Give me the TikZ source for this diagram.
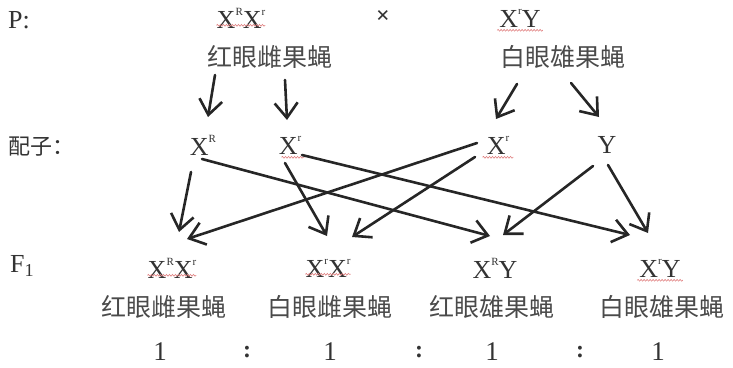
\documentclass[tikz,border=0pt]{standalone}
\usepackage{fontspec}
\setmainfont{Liberation Serif}
\newfontfamily\cjk{Noto Sans CJK SC}
\usetikzlibrary{arrows.meta,decorations.pathmorphing}
\definecolor{txt}{HTML}{4A4A4A}
\definecolor{wavy}{HTML}{E08080}
\newcommand{\gsup}[1]{\raisebox{0.5em}{\fontsize{11}{11}\selectfont #1}}
\begin{document}
\begin{tikzpicture}[x=1pt,y=-1pt,
  geno/.style={inner sep=0pt,text=black!80,font=\fontsize{26}{26}\selectfont},
  pheno/.style={inner sep=0pt,text=txt,font=\cjk\fontsize{25}{25}\selectfont},
  lbl/.style={inner sep=0pt,anchor=west,text=black!80},
  ratio/.style={inner sep=0pt,text=black!80,font=\fontsize{27}{27}\selectfont},
  arr/.style={line width=2.6pt,black!85,line cap=round,-{Straight Barb[length=15pt,width=23pt,line width=2.6pt]}},
  wav/.style={wavy,line width=0.6pt,decorate,decoration={snake,amplitude=0.9pt,segment length=3pt}}]
\useasboundingbox (0,0) rectangle (733,367);
% labels
\node[lbl,font=\fontsize{26}{26}\selectfont] (lp) at (8,20) {P:};
\node[lbl,font=\cjk\fontsize{22}{22}\selectfont] (lg) at (8,147) {配子：};
\node[lbl,font=\fontsize{26}{26}\selectfont] (lf) at (10,266) {F\textsubscript{1}};
% parents
\node[geno] (pfg) at (241,18) {X\gsup{R}X\gsup{r}};
\node[inner sep=0pt,font=\bfseries\fontsize{24}{24}\selectfont,text=black!80] (cross) at (383,17) {×};
\node[geno] (pmg) at (520,18) {X\gsup{r}Y};
\node[pheno] (pf) at (270,57) {红眼雌果蝇};
\node[pheno] (pm) at (563,57) {白眼雄果蝇};
% gametes
\node[geno] (gR) at (203,145) {X\gsup{R}};
\node[geno] (gr1) at (290,145) {X\gsup{r}};
\node[geno] (gr2) at (498,145) {X\gsup{r}};
\node[geno] (gY) at (607,145) {Y};
% F1
\node[geno] (f1) at (172,268) {X\gsup{R}X\gsup{r}};
\node[geno] (f2) at (328,268) {X\gsup{r}X\gsup{r}};
\node[geno] (f3) at (495,268) {X\gsup{R}Y};
\node[geno] (f4) at (660,268) {X\gsup{r}Y};
\node[pheno] (p1) at (164,307) {红眼雌果蝇};
\node[pheno] (p2) at (330,307) {白眼雌果蝇};
\node[pheno] (p3) at (492,307) {红眼雄果蝇};
\node[pheno] (p4) at (662,307) {白眼雄果蝇};
% ratio
\node[ratio] (r1) at (160,352) {1};
\node[ratio,font=\bfseries\fontsize{24}{24}\selectfont] (c1) at (247,352) {:};
\node[ratio] (r2) at (330,352) {1};
\node[ratio,font=\bfseries\fontsize{24}{24}\selectfont] (c2) at (419,352) {:};
\node[ratio] (r3) at (492,352) {1};
\node[ratio,font=\bfseries\fontsize{24}{24}\selectfont] (c3) at (580,352) {:};
\node[ratio] (r4) at (658,352) {1};
% wavy underlines
\draw[wav] ([yshift=3]pfg.south west) -- ([yshift=3]pfg.south east);
\draw[wav] ([shift={(-2,3)}]pmg.south west) -- ([shift={(2,3)}]pmg.south east);
\draw[wav] ([shift={(3,3)}]gr1.south west) -- ([shift={(3,3)}]gr1.south east);
\draw[wav] ([shift={(-4,3)}]gr2.south west) -- ([shift={(4,3)}]gr2.south east);
\draw[wav] ([yshift=3]f1.south west) -- ([yshift=3]f1.south east);
\draw[wav] ([yshift=3]f2.south west) -- ([yshift=3]f2.south east);
\draw[wav] ([shift={(-2,3)}]f4.south west) -- ([shift={(2,3)}]f4.south east);
% arrows P -> gametes
\draw[arr] ([shift={(-55,18)}]pf.center) -- ([shift={(5,-28)}]gR.center);
\draw[arr] ([shift={(15,23)}]pf.center) -- ([shift={(-3,-25)}]gr1.center);
\draw[arr] ([shift={(-46,27)}]pm.center) -- ([shift={(-2,-26)}]gr2.center);
\draw[arr] ([shift={(8,26)}]pm.center) -- ([shift={(-8,-28)}]gY.center);
% arrows gametes -> F1
\draw[arr] ([shift={(-12,27)}]gR.center) -- ([shift={(7,-36)}]f1.center);
\draw[arr] ([shift={(-1,14)}]gR.center) -- ([shift={(-5,-32)}]f3.center);
\draw[arr] ([shift={(-5,18)}]gr1.center) -- ([shift={(-1,-32)}]f2.center);
\draw[arr] ([shift={(12,10)}]gr1.center) -- ([shift={(-30,-33)}]f4.center);
\draw[arr] ([shift={(-21,-2)}]gr2.center) -- ([shift={(15,-29)}]f1.center);
\draw[arr] ([shift={(-23,12)}]gr2.center) -- ([shift={(24,-31)}]f2.center);
\draw[arr] ([shift={(-14,21)}]gY.center) -- ([shift={(8,-33)}]f3.center);
\draw[arr] ([shift={(1,20)}]gY.center) -- ([shift={(-12,-35)}]f4.center);
\end{tikzpicture}
\end{document}
